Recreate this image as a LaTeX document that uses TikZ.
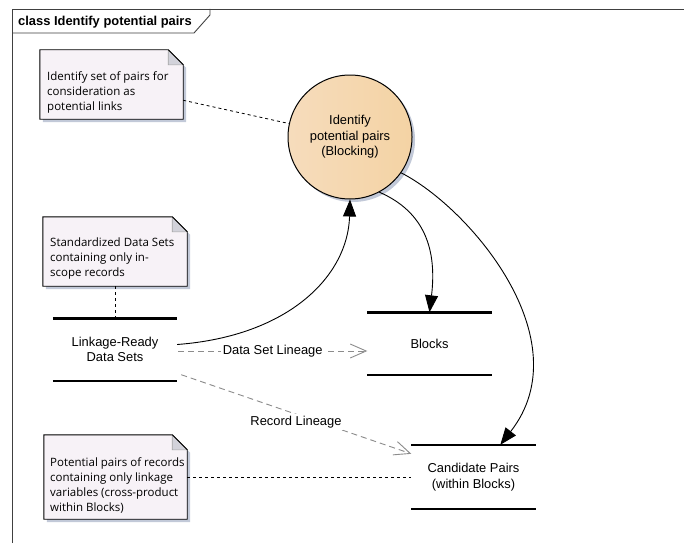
\documentclass[tikz,border=0pt]{standalone}
\usepackage{fontspec}
\setmainfont{Liberation Sans}
\newfontfamily\notefont{Open Sans}
\usetikzlibrary{arrows.meta,calc,backgrounds}

\definecolor{notebg}{HTML}{F7F2F7}
\definecolor{foldbg}{HTML}{D2D2DA}
\definecolor{shadowbg}{HTML}{C2C9D8}
\definecolor{lineagegray}{HTML}{8C8C8C}
\definecolor{procleft}{HTML}{F6DCBC}
\definecolor{procmid}{HTML}{FCF1E4}
\definecolor{procright}{HTML}{F4D3A4}

\tikzset{
  frameline/.style={draw=black!75, line width=0.9pt},
  notebox/.style={rectangle, inner sep=0pt},
  notetext/.style={anchor=west, align=left, inner sep=0pt,
    font=\notefont\fontsize{11.5}{15}\selectfont},
  labeltext/.style={align=center, font=\fontsize{12.9}{15.5}\selectfont},
  storebox/.style={rectangle, inner sep=0pt, minimum width=124, minimum height=62,
    labeltext},
  storeline/.style={line width=2.4pt},
  notelink/.style={dashed, dash pattern=on 3pt off 3pt, line width=0.8pt},
  flow/.style={line width=0.9pt, -{Triangle[length=17pt, width=13pt]}},
  lineage/.style={draw=lineagegray, line width=0.9pt, dash pattern=on 6pt off 4pt,
    -{Straight Barb[length=16pt, width=14pt, line width=0.9pt]}},
}

% note body with a folded top-right corner and a drop shadow
\newcommand\drawnote[1]{%
  \fill[shadowbg] ($(#1.north west)+(3,3)$) -- ($(#1.north east)+(-12,3)$)
    -- ($(#1.north east)+(3,18)$) -- ($(#1.south east)+(3,3)$)
    -- ($(#1.south west)+(3,3)$) -- cycle;
  \filldraw[fill=notebg, draw=black, line width=0.9pt] (#1.north west)
    -- ($(#1.north east)+(-15,0)$) -- ($(#1.north east)+(0,15)$)
    -- (#1.south east) -- (#1.south west) -- cycle;
  \filldraw[fill=foldbg, draw=black!35, line width=0.6pt] ($(#1.north east)+(-15,0)$)
    -- ($(#1.north east)+(-15,15)$) -- ($(#1.north east)+(0,15)$) -- cycle;
  \draw[line width=0.9pt] ($(#1.north east)+(-15,0)$) -- ($(#1.north east)+(0,15)$);
}

\begin{document}
\begin{tikzpicture}[x=1pt, y=-1pt]
  \useasboundingbox (0,0) rectangle (684,543);

  % diagram frame and title tab
  \draw[frameline] (12,543) -- (12,9) -- (684,9);
  \draw[frameline] (12,33) -- (194,33) -- (210,15) -- (210,9);
  \node[anchor=west, inner sep=0pt, font=\bfseries\fontsize{12.9}{14}\selectfont]
    (title) at (18,22) {class Identify potential pairs};

  % notes
  \node[notebox, minimum width=143, minimum height=69] (n1) at (111.5,84.5) {};
  \node[notetext] (n1text) at (47,92.5)
    {Identify set of pairs for\\consideration as\\potential links};

  \node[notebox, minimum width=144, minimum height=69] (n2) at (115,251.5) {};
  \node[notetext] (n2text) at (50,258.5)
    {Standardized Data Sets\\containing only in-\\scope records};

  \node[notebox, minimum width=143, minimum height=84] (n3) at (115.5,477) {};
  \node[notetext] (n3text) at (50,485.5)
    {Potential pairs of records\\containing only linkage\\variables (cross-product\\within Blocks)};

  % process
  \node[circle, minimum size=124, inner sep=0pt, draw=black, line width=1pt,
        left color=procleft, middle color=procmid, right color=procright,
        labeltext] (circ) at (350,137)
    {Identify\\potential pairs\\(Blocking)};

  % data stores
  \node[storebox] (lr) at (115,349.5) {Linkage-Ready\\Data Sets};
  \node[storebox] (blocks) at (429.5,343.5) {Blocks};
  \node[storebox, minimum height=64] (cp) at (473.5,477) {Candidate Pairs\\(within Blocks)};

  \begin{pgfonlayer}{background}
    \fill[white] (0,0) rectangle (684,543);
    \fill[shadowbg] ($(circ.center)+(3,3)$) circle (62);
    \drawnote{n1}
    \drawnote{n2}
    \drawnote{n3}
  \end{pgfonlayer}

  \foreach \s in {lr, blocks, cp} {
    \draw[storeline] (\s.north west) -- (\s.north east);
    \draw[storeline] (\s.south west) -- (\s.south east);
  }

  % note attachments
  \draw[notelink] (n1) -- (circ);
  \draw[notelink] (n2.south) -- (lr.north);
  \draw[notelink] (n3) -- (cp);

  % data flows
  \draw[flow] ($(lr.east)+(0,-5)$) .. controls (290,336) and (348,275) .. (circ.south);
  \draw[flow] (circ.-62) .. controls (425,212) and (437,250) .. (blocks.north);
  \draw[flow] (circ.-35) .. controls (470,208) and (582,340) .. ($(cp.north west)+(89,0)$);

  % lineage dependencies
  \draw[lineage] ($(lr.east)+(1,1.5)$) -- ($(blocks.west)+(0,7.5)$)
    node[midway, fill=white, inner sep=1.5pt, labeltext] (dsl) {Data Set Lineage};
  \draw[lineage] ($(lr.south east)+(4,-6)$) -- ($(cp.north west)+(0,9)$);
  \node[fill=white, inner sep=1.5pt, labeltext] (rl) at (296,422) {Record Lineage};
\end{tikzpicture}
\end{document}
